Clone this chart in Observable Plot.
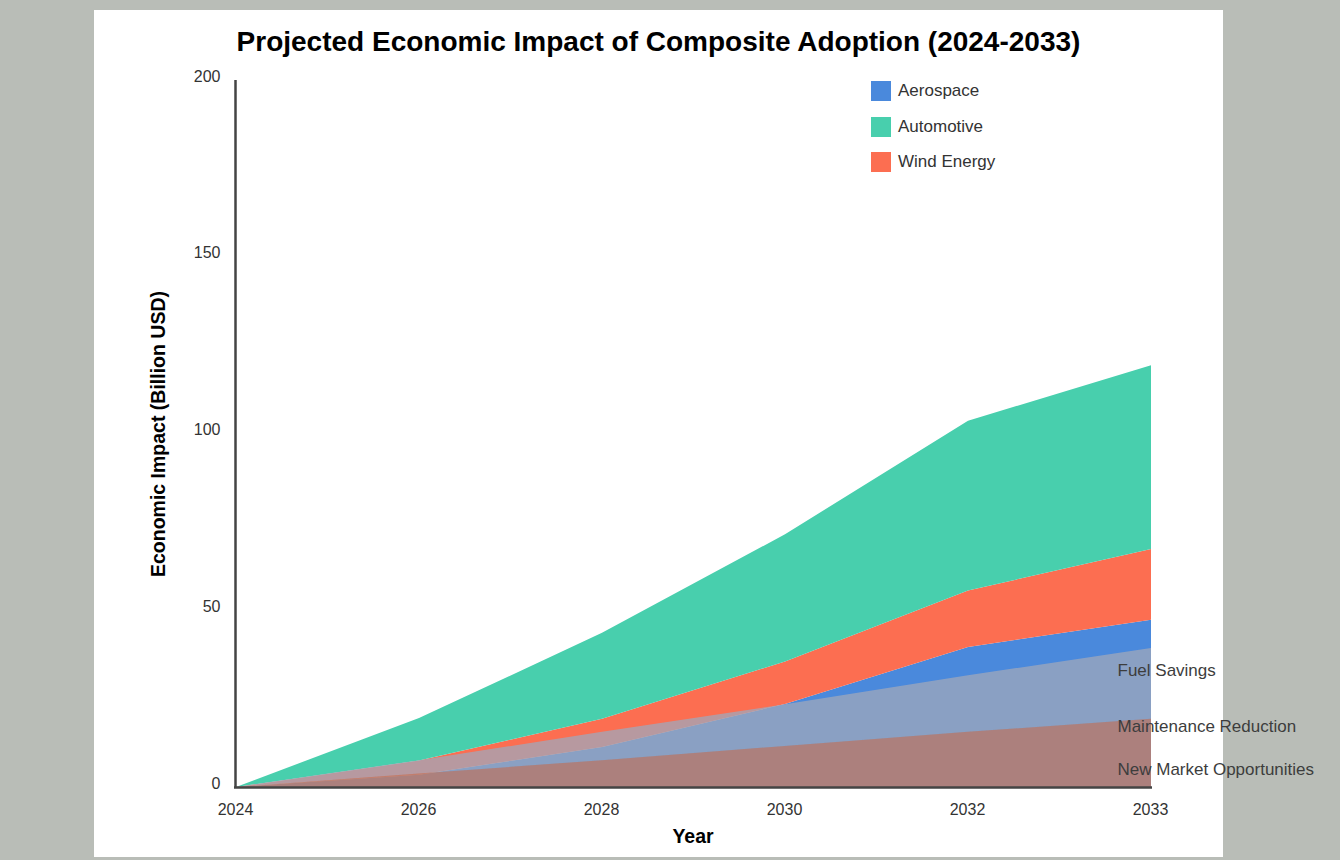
<!DOCTYPE html>
<html>
<head>
<meta charset="utf-8">
<script src="https://cdn.jsdelivr.net/npm/d3@7"></script>
<script src="https://cdn.jsdelivr.net/npm/@observablehq/plot@0.6"></script>
<style>
  html, body { margin: 0; padding: 0; }
  body { width: 1340px; height: 860px; background: #b9bdb7; position: relative; overflow: hidden;
         font-family: Arial, "Liberation Sans", sans-serif; }
  #panel { position: absolute; left: 94px; top: 10px; width: 1129px; height: 847px; background: #fff; }
  #title { position: absolute; left: 0; width: 100%; top: 18px; text-align: center; font-size: 28px;
           line-height: 28px; font-weight: bold; color: #000; margin: 0; }
  #chart { position: absolute; left: 0; top: 0; }
  #ytitle { position: absolute; left: 64px; top: 424px; transform: translate(-50%, -50%) rotate(-90deg);
            font-size: 19.5px; font-weight: bold; white-space: nowrap; color: #000; line-height: 20px; }
  #xtitle { position: absolute; left: 599px; top: 826px; transform: translate(-50%, -50%);
            font-size: 19.5px; font-weight: bold; color: #000; line-height: 20px; }
  #legend { position: absolute; left: 777px; top: 71px; }
  .lg { display: flex; align-items: center; height: 20px; margin-bottom: 15.5px; }
  .sw { width: 20px; height: 20px; margin-right: 7px; }
  .lt { font-size: 17px; color: #333; }
</style>
</head>
<body>
<div id="panel">
  <div id="title">Projected Economic Impact of Composite Adoption (2024-2033)</div>
  <div id="chart"></div>
  <div id="ytitle">Economic Impact (Billion USD)</div>
  <div id="xtitle">Year</div>
  <div id="legend"></div>
</div>
<script>
// ---- data ----
const years = ["2024", "2026", "2028", "2030", "2032", "2033"];
const aerospace  = [0, 3.5, 11.3, 23.5, 39.6, 47.3];
const automotive = [0, 12, 24.3, 36, 48, 52];
const windEnergy = [0, 4, 8, 12, 16, 20];
const sectors = ["Aerospace", "Automotive", "Wind Energy"];
const sectorColors = ["#4A89DC", "#48CFAD", "#FC6E51"];
const stackOrder = ["Aerospace", "Wind Energy", "Automotive"];

const fuelSavings            = [0, 7.6, 15.6, 23.4, 31.6, 39.3];
const maintenanceReduction   = [0, 3.8, 7.6, 11.6, 15.6, 19.3];
const newMarketOpportunities = [0, 3.8, 7.6, 11.6, 15.6, 19.3];
const impactNames = ["Fuel Savings", "Maintenance Reduction", "New Market Opportunities"];
const impactLabelValues = [33.1, 17.3, 5.1];
const yTicks = [0, 50, 100, 150, 200];

// ---- build tables ----
const sectorSeries = { "Aerospace": aerospace, "Automotive": automotive, "Wind Energy": windEnergy };
const sectorRows = [];
for (const s of stackOrder) years.forEach((y, i) => sectorRows.push({ year: y, sector: s, value: sectorSeries[s][i] }));
const impactRows = years.map((y, i) => ({ year: y, fs: fuelSavings[i], mr: maintenanceReduction[i], nmo: newMarketOpportunities[i] }));
const labelRows = impactNames.map((n, i) => ({ name: n, year: years[years.length - 1], value: impactLabelValues[i] }));

const curve = "linear";
const chart = Plot.plot({
  width: 1129, height: 847,
  marginLeft: 140, marginRight: 71, marginTop: 70, marginBottom: 70,
  style: { background: "transparent", fontFamily: "Arial, 'Liberation Sans', sans-serif", fontSize: "16px", color: "#333", overflow: "visible" },
  x: { type: "point", domain: years, padding: 0 },
  y: { domain: [0, 200] },
  color: { domain: sectors, range: sectorColors },
  marks: [
    Plot.areaY(sectorRows, Plot.stackY({ order: stackOrder }, { x: "year", y: "value", fill: "sector", z: "sector", curve })),
    Plot.areaY(impactRows, { x: "year", y1: 0, y2: "fs", fill: "#a0a8bb", fillOpacity: 0.75, curve }),
    Plot.areaY(impactRows, { x: "year", y1: 0, y2: "mr", fill: "#cd643c", fillOpacity: 0.3, curve }),
    Plot.areaY(impactRows, { x: "year", y1: 0, y2: "nmo", fill: "#cd643c", fillOpacity: 0.3, curve }),
    Plot.text(labelRows, { x: "year", y: "value", text: "name", textAnchor: "start", dx: -34, fontSize: 17, fill: "#3d3d3d" }),
    Plot.ruleX([years[0]], { stroke: "#444", strokeWidth: 2.5, dx: -1 }),
    Plot.ruleY([0], { stroke: "#444", strokeWidth: 2.5 }),
    Plot.axisY({ ticks: yTicks, tickSize: 0, tickPadding: 14, dy: -4, fontSize: 16, fill: "#333", label: null }),
    Plot.axisX({ tickSize: 0, tickPadding: 16, fontSize: 16, fill: "#333", label: null, dx: -1 })
  ]
});
document.getElementById("chart").appendChild(chart);

// legend
const lg = document.getElementById("legend");
sectors.forEach((s, i) => {
  const row = document.createElement("div"); row.className = "lg";
  const sw = document.createElement("div"); sw.className = "sw"; sw.style.background = sectorColors[i];
  const t = document.createElement("span"); t.className = "lt"; t.textContent = s;
  row.appendChild(sw); row.appendChild(t); lg.appendChild(row);
});
</script>
</body>
</html>
